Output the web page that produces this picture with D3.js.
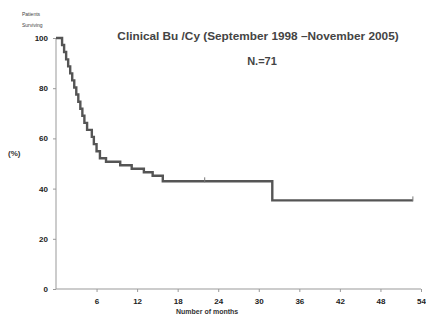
<!DOCTYPE html>
<html>
<head>
<meta charset="utf-8">
<script src="https://cdn.jsdelivr.net/npm/d3@7"></script>
<style>
  body { margin: 0; background: #fff; }
  svg { font-family: Arial, "Liberation Sans", sans-serif; }
  .axis path, .axis line { stroke: #999; }
  .axis text { fill: #222; font-weight: bold; font-size: 8px; }
</style>
</head>
<body>
<svg id="chart" width="426" height="320"></svg>
<script>
// Kaplan-Meier step points: time in months, survival in %
const eventMonths = [0, 0.9, 1.2, 1.5, 1.8, 2.1, 2.4, 2.7, 3.0, 3.3, 3.6, 3.9, 4.2, 4.6,
  5.3, 5.6, 6.0, 6.5, 7.4, 9.5, 11.2, 13.0, 14.3, 15.8, 32.0];
const survival = [100, 97.2, 94.4, 91.5, 88.7, 85.9, 83.1, 80.3, 77.5, 74.6, 71.8, 69.0, 66.2, 63.4,
  60.6, 57.7, 54.9, 52.1, 50.7, 49.3, 47.9, 46.5, 45.1, 42.9, 35.3];
const lastFollowUp = 52.8;
const censorMonths = [22.0, 52.8];
const xTicks = [6, 12, 18, 24, 30, 36, 42, 48, 54];
const yTicks = [0, 20, 40, 60, 80, 100];

const svg = d3.select("#chart");
const x = d3.scaleLinear().domain([0, 54]).range([56, 421]);
const y = d3.scaleLinear().domain([0, 100]).range([289, 38]);

// axes
svg.append("g")
  .attr("class", "axis")
  .attr("transform", "translate(0,289)")
  .call(d3.axisBottom(x).tickValues(xTicks).tickSize(3).tickPadding(6))
  .call(g => g.select(".domain").attr("d", "M56,0H421"));

svg.append("g")
  .attr("class", "axis")
  .attr("transform", "translate(56,0)")
  .call(d3.axisLeft(y).tickValues(yTicks).tickSize(3).tickPadding(5))
  .call(g => g.select(".domain").attr("d", "M0,289V38"));

// survival curve
const pts = eventMonths.map((t, i) => [t, survival[i]]);
pts.push([lastFollowUp, survival[survival.length - 1]]);
const line = d3.line()
  .x(d => x(d[0]))
  .y(d => y(d[1]))
  .curve(d3.curveStepAfter);

svg.append("path")
  .datum(pts)
  .attr("fill", "none")
  .attr("stroke", "#555")
  .attr("stroke-width", 2.4)
  .attr("d", line);

// censor ticks
const survAt = t => survival[d3.bisectRight(eventMonths, t) - 1];
svg.selectAll(".censor")
  .data(censorMonths)
  .join("line")
  .attr("class", "censor")
  .attr("x1", d => x(d)).attr("x2", d => x(d))
  .attr("y1", d => y(survAt(d)) - 4)
  .attr("y2", d => y(survAt(d)) + 1)
  .attr("stroke", "#777")
  .attr("stroke-width", 1);

// texts
svg.append("text")
  .attr("x", 258).attr("y", 40)
  .attr("text-anchor", "middle")
  .attr("font-size", 11.8).attr("font-weight", "bold").attr("fill", "#444")
  .text("Clinical Bu /Cy (September 1998 \u2013November 2005)");

svg.append("text")
  .attr("x", 262).attr("y", 65)
  .attr("text-anchor", "middle")
  .attr("font-size", 11).attr("font-weight", "bold").attr("fill", "#444")
  .text("N.=71");

svg.append("text")
  .attr("x", 8).attr("y", 156)
  .attr("font-size", 8).attr("font-weight", "bold").attr("fill", "#333")
  .text("(%)");

svg.append("text")
  .attr("x", 22).attr("y", 16)
  .attr("font-size", 5).attr("fill", "#444")
  .text("Patients");
svg.append("text")
  .attr("x", 22).attr("y", 27)
  .attr("font-size", 5).attr("fill", "#444")
  .text("Surviving");

svg.append("text")
  .attr("x", 176).attr("y", 314)
  .attr("font-size", 7).attr("font-weight", "bold").attr("fill", "#333")
  .text("Number of months");
</script>
</body>
</html>
